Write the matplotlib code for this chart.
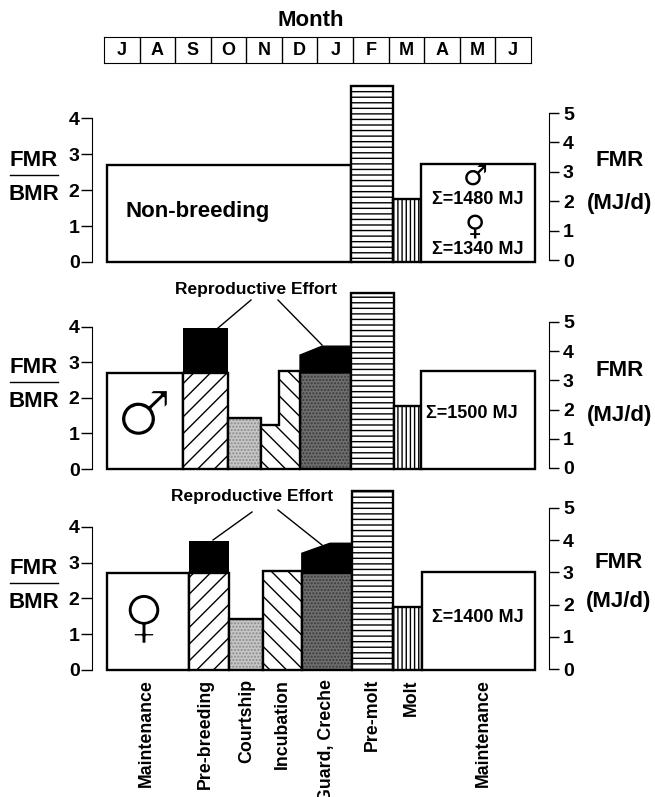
#!/usr/bin/env python3

import matplotlib
matplotlib.use('Agg')
import matplotlib.pyplot as plt
import matplotlib.patheffects as pe
from matplotlib.lines import Line2D

plt.rcParams['font.family'] = ['Liberation Sans', 'DejaVu Sans']
plt.rcParams['font.weight'] = 'bold'
plt.rcParams['hatch.linewidth'] = 1.0

W, H = 655, 797
MONTHS = ['J', 'A', 'S', 'O', 'N', 'D', 'J', 'F', 'M', 'A', 'M', 'J']
STAGES = ['Maintenance', 'Pre-breeding', 'Courtship', 'Incubation',
          'Guard, Creche', 'Pre-molt', 'Molt', 'Maintenance']
STAGE_X = [146, 205, 247, 282, 327, 372, 411, 483]

# x in months from the start of July, y in FMR/BMR
NB_EDGES = [0.08, 6.94, 8.12, 8.91, 12.11]
NB_TOPS = [2.70, 4.91, 1.75, 2.72]

# incubation in the male panel is stepped, it gets its own outline below
MALE_EDGES = [0.08, 2.22, 3.49, 4.41, 5.51, 6.94, 8.15, 8.91, 12.11]
MALE_TOPS = [2.70, 2.70, 1.43, None, 2.72, 4.95, 1.77, 2.76]
MALE_INC_X = [4.41, 4.41, 4.92, 4.92, 5.51, 5.51]
MALE_INC_Y = [0, 1.23, 1.23, 2.75, 2.75, 0]
MALE_RE_PRE = 3.95
MALE_RE_X = [5.51, 6.13, 6.94]
MALE_RE_Y = [3.20, 3.45, 3.45]

FEM_EDGES = [0.08, 2.39, 3.51, 4.47, 5.56, 6.97, 8.12, 8.94, 12.11]
FEM_TOPS = [2.72, 2.72, 1.42, 2.76, 2.72, 5.00, 1.75, 2.75]
FEM_RE_PRE = 3.61
FEM_RE_X = [5.56, 6.35, 6.97]
FEM_RE_Y = [3.26, 3.54, 3.54]

# (face, hatch, hatch colour) per stage
PLAIN = ('white', None, 'black')
SLASH = ('white', '//', 'black')
COURT = ('#c6c6c6', '.....', '#8a8a8a')
BACK = ('white', '\\\\', 'black')
GUARD = ('#6e6e6e', '.....', '#3a3a3a')
HORIZ = ('white', '---', 'black')
VERT = ('white', '||||', 'black')
STYLES = [PLAIN, SLASH, COURT, BACK, GUARD, HORIZ, VERT, PLAIN]
NB_STYLES = [PLAIN, HORIZ, VERT, PLAIN]

MONTH_PX = 35.58
X0_PX = 104
LEFT_PX, RIGHT_PX = 92, 549
LW = 1.7
# white stroke on top of the glyph, the big sex symbols are thin in the original
THIN = [pe.Normal(), pe.Stroke(linewidth=1.6, foreground='white')]

fig = plt.figure(figsize=(W / 100, H / 100), dpi=100)


def fx(px):
    return px / W


def fy(px):
    return 1 - px / H


def label(x, y, s, size=13, **kw):
    kw.setdefault('ha', 'center')
    kw.setdefault('va', 'center')
    fig.text(fx(x), fy(y), s, fontsize=size, **kw)


def symbol(x, y, s, size, thin=False):
    t = fig.text(fx(x), fy(y), s, fontsize=size, ha='center', va='center',
                 family='DejaVu Sans', weight='normal')
    if thin:
        t.set_path_effects(THIN)


def leader(x1, y1, x2, y2):
    fig.add_artist(Line2D([fx(x1), fx(x2)], [fy(y1), fy(y2)], color='black', lw=1.0))


def shape(ax, xs, ys, style):
    face, hatch, hatch_color = style
    ax.fill(xs, ys, facecolor=face, edgecolor=hatch_color, hatch=hatch, linewidth=0, clip_on=False)
    ax.fill(xs, ys, fill=False, edgecolor='black', linewidth=LW, clip_on=False)


def panel(y0, left_unit, right0, right_unit, edges, tops, styles):
    top_px = y0 - 5.2 * left_unit
    ax = fig.add_axes([fx(LEFT_PX), fy(y0), (RIGHT_PX - LEFT_PX) / W, (y0 - top_px) / H])
    ax.patch.set_alpha(0)
    for i, top in enumerate(tops):
        if top is not None:
            shape(ax, [edges[i], edges[i], edges[i + 1], edges[i + 1]], [0, top, top, 0], styles[i])
    ax.set_xlim((LEFT_PX - X0_PX) / MONTH_PX, (RIGHT_PX - X0_PX) / MONTH_PX)
    ax.set_ylim(0, 5.2)
    ax.set_xticks([])
    ax.set_yticks([0, 1, 2, 3, 4])
    ax.tick_params(axis='y', length=8, width=1, labelsize=14, pad=1)
    for s in ['top', 'right', 'bottom']:
        ax.spines[s].set_visible(False)
    ax.spines['left'].set_bounds(0, 4)

    rax = ax.twinx()
    rax.patch.set_alpha(0)
    rax.set_ylim((right0 - y0) / right_unit, (right0 - top_px) / right_unit)
    rax.set_yticks([0, 1, 2, 3, 4, 5])
    rax.tick_params(axis='y', length=7, width=1, labelsize=14, pad=3)
    for s in ['top', 'left', 'bottom']:
        rax.spines[s].set_visible(False)
    rax.spines['right'].set_bounds(0, 5)
    return ax


def effort(ax, edges, pre_top, re_x, re_y, base):
    ax.bar(edges[1], pre_top - base, edges[2] - edges[1], bottom=base, align='edge',
           color='black', clip_on=False)
    ax.fill(re_x + re_x[::-1], re_y + [base] * len(re_x), color='black', clip_on=False)


def fraction(y_fmr, y_line, y_bmr):
    label(34, y_fmr, 'FMR', 16)
    label(34, y_bmr, 'BMR', 16)
    leader(10, y_line, 58, y_line)


# month strip
strip = fig.add_axes([fx(X0_PX), fy(63), 12 * MONTH_PX / W, 26 / H])
strip.set_xlim(0, 12)
strip.set_ylim(0, 1)
strip.set_xticks([])
strip.set_yticks([])
strip.vlines(range(1, 12), 0, 1, color='black', lw=1)
for i, m in enumerate(MONTHS):
    strip.text(i + .5, .47, m, ha='center', va='center', fontsize=13)
label(311, 20, 'Month', 16)

# non-breeding
ax1 = panel(262, 35.9, 260, 29.4, NB_EDGES, NB_TOPS, NB_STYLES)
label(125, 211, 'Non-breeding', 16, ha='left')
label(478, 199, '\u03a3=1480 MJ', 13)
label(478, 249, '\u03a3=1340 MJ', 13)
symbol(475, 177, '\u2642', 20)
symbol(475, 226, '\u2640', 20)
fraction(161, 175, 194)
label(620, 161, 'FMR', 16)
label(620, 204, '(MJ/d)', 16)

# male
ax2 = panel(469, 35.6, 468, 29.2, MALE_EDGES, MALE_TOPS, STYLES)
shape(ax2, MALE_INC_X, MALE_INC_Y, BACK)
effort(ax2, MALE_EDGES, MALE_RE_PRE, MALE_RE_X, MALE_RE_Y, MALE_TOPS[1])
label(256, 290, 'Reproductive Effort', 12.5)
leader(251, 300, 218, 328)
leader(278, 300, 322, 345)
label(472, 414, '\u03a3=1500 MJ', 13)
symbol(144, 418, '\u2642', 45, thin=True)
fraction(368, 382, 402)
label(620, 370, 'FMR', 16)
label(620, 415, '(MJ/d)', 16)

# female
ax3 = panel(670, 35.8, 669, 32.2, FEM_EDGES, FEM_TOPS, STYLES)
effort(ax3, FEM_EDGES, FEM_RE_PRE, FEM_RE_X, FEM_RE_Y, FEM_TOPS[1])
label(252, 497, 'Reproductive Effort', 12.5)
leader(252, 512, 213, 540)
leader(278, 510, 322, 545)
label(478, 617, '\u03a3=1400 MJ', 13)
symbol(144, 620, '\u2640', 42, thin=True)
fraction(568, 583, 603)
label(619, 563, 'FMR', 16)
label(619, 602, '(MJ/d)', 16)

# stage names under the last panel
for x, s in zip(STAGE_X, STAGES):
    label(x, 679, s, 12.8, rotation=90, va='top')

fig.savefig('out.png', dpi=100)
